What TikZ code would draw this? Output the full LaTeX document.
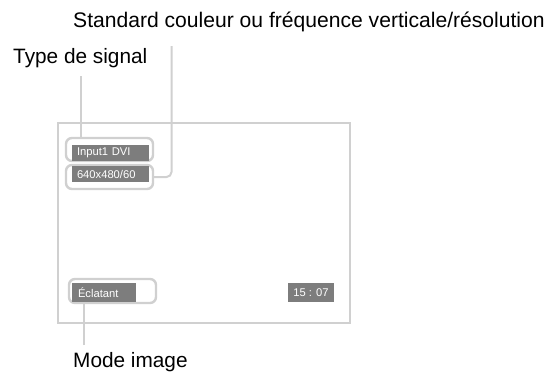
\documentclass[tikz,border=0pt]{standalone}
\usepackage{fontspec}
\setmainfont{Liberation Sans}
\usetikzlibrary{positioning}
\definecolor{osdgray}{HTML}{7D7D7D}
\definecolor{linegray}{HTML}{D0D0D0}

\begin{document}
\begin{tikzpicture}[x=1pt,y=-1pt,
  callout/.style={font=\fontsize{20.8}{24}\selectfont, inner sep=0pt, anchor=base west},
  osd/.style={fill=osdgray, text=white, font=\fontsize{11.2}{13}\selectfont,
    inner ysep=0pt, inner xsep=5pt, align=left},
  ring/.style={draw=linegray, line width=2.4pt, rounded corners=6pt, inner sep=0pt},
  leader/.style={draw=linegray, line width=2pt}]
  \useasboundingbox (0,0) rectangle (552,373);
  % screen frame
  \draw[linegray, line width=2.4pt] (58,123) rectangle (350,323);
  % highlight rings
  \node[ring, minimum width=87, minimum height=23] (ring1) at (109.5,149.5) {};
  \node[ring, minimum width=87, minimum height=24] (ring2) at (109.5,177) {};
  \node[ring, minimum width=87, minimum height=24] (ring3) at (112.5,291) {};
  % osd bars
  \node[osd, text width=67, minimum height=16] (input) at (110.5,153) {Input1 DVI};
  \node[osd, text width=67, minimum height=16] (reso) at (110.5,174) {640x480/60};
  \node[osd, inner xsep=6pt, text width=52, minimum height=19] (picmode) at (104,292.5) {Éclatant};
  \node[osd, minimum width=46, minimum height=19] (clock) at (311,292.5) {15 : 07};
  % labels
  \node[callout, font=\fontsize{21.1}{24}\selectfont] (stdres) at (73,27) {Standard couleur ou fréquence verticale/résolution};
  \node[callout] (tsig) at (13,63) {Type de signal};
  \node[callout] (mode) at (73,367) {Mode image};
  % leaders
  \coordinate (stdend) at (171.5,46);
  \coordinate (tsigend) at (81,76);
  \coordinate (modeend) at (84,345);
  \draw[leader, rounded corners=5pt] (stdend) |- (ring2.east);
  \draw[leader] (tsigend) -- (tsigend |- ring1.north);
  \draw[leader] (modeend) -- (modeend |- ring3.south);
\end{tikzpicture}
\end{document}
